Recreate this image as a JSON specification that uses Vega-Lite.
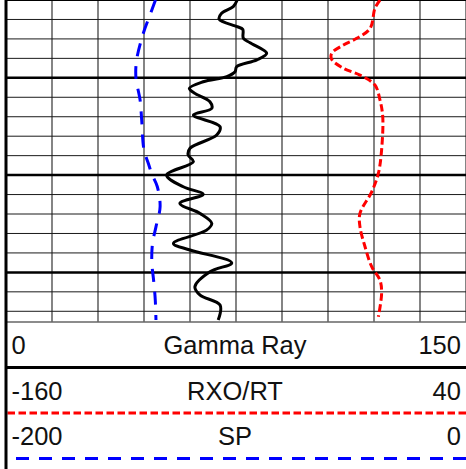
{
  "$schema": "https://vega.github.io/schema/vega-lite/v6.json",
  "width": 460,
  "height": 469,
  "autosize": "none",
  "padding": {"left": 6, "top": 0, "right": 0, "bottom": 0},
  "background": "white",
  "config": {"view": {"stroke": null}, "font": "Liberation Sans"},
  "resolve": {"scale": {"x": "independent", "y": "independent"}},
  "datasets": {
    "vgrid": [
      {"div": 1, "depth": 1010}, {"div": 1, "depth": 1175.5}, {"div": 2, "depth": 1010}, {"div": 2, "depth": 1175.5},
      {"div": 3, "depth": 1010}, {"div": 3, "depth": 1175.5}, {"div": 4, "depth": 1010}, {"div": 4, "depth": 1175.5},
      {"div": 5, "depth": 1010}, {"div": 5, "depth": 1175.5}, {"div": 6, "depth": 1010}, {"div": 6, "depth": 1175.5},
      {"div": 7, "depth": 1010}, {"div": 7, "depth": 1175.5}, {"div": 8, "depth": 1010}, {"div": 8, "depth": 1175.5},
      {"div": 9, "depth": 1010}, {"div": 9, "depth": 1175.5}, {"div": 10, "depth": 1010}, {"div": 10, "depth": 1175.5}
    ],
    "border": [{"depth": 1010}, {"depth": 1251.06}],
    "edges": [{"depth": 1010, "kind": "top"}, {"depth": 1175.5, "kind": "bottom"}],
    "hgrid": [
      {"depth": 1020, "major": false}, {"depth": 1030, "major": false}, {"depth": 1040, "major": false},
      {"depth": 1050, "major": true}, {"depth": 1060, "major": false}, {"depth": 1070, "major": false},
      {"depth": 1080, "major": false}, {"depth": 1090, "major": false}, {"depth": 1100, "major": true},
      {"depth": 1110, "major": false}, {"depth": 1120, "major": false}, {"depth": 1130, "major": false},
      {"depth": 1140, "major": false}, {"depth": 1150, "major": true}, {"depth": 1160, "major": false},
      {"depth": 1170, "major": false}
    ],
    "sp": [
      {"depth": 1010.0, "value": -135.0}, {"depth": 1016.8, "value": -137.1}, {"depth": 1027.1, "value": -140.3},
      {"depth": 1040.8, "value": -143.2}, {"depth": 1050.1, "value": -143.5}, {"depth": 1061.4, "value": -141.7},
      {"depth": 1071.7, "value": -141.0}, {"depth": 1087.1, "value": -140.0}, {"depth": 1094.0, "value": -138.1},
      {"depth": 1099.4, "value": -136.6}, {"depth": 1106.0, "value": -134.2}, {"depth": 1116.3, "value": -133.0},
      {"depth": 1126.6, "value": -134.8}, {"depth": 1135.1, "value": -136.3}, {"depth": 1145.0, "value": -136.6},
      {"depth": 1154.3, "value": -135.8}, {"depth": 1164.2, "value": -135.1}, {"depth": 1174.5, "value": -134.8}
    ],
    "rxo": [
      {"depth": 1010.0, "value": 2.6}, {"depth": 1014.3, "value": 0.4}, {"depth": 1024.6, "value": -1.7},
      {"depth": 1029.7, "value": -7.5}, {"depth": 1033.1, "value": -13.3}, {"depth": 1037.4, "value": -18.4},
      {"depth": 1040.5, "value": -18.4}, {"depth": 1045.1, "value": -13.3}, {"depth": 1048.6, "value": -6.1},
      {"depth": 1053.7, "value": 0.4}, {"depth": 1061.4, "value": 2.6}, {"depth": 1070.0, "value": 3.8},
      {"depth": 1087.1, "value": 3.3}, {"depth": 1099.1, "value": 1.9}, {"depth": 1108.6, "value": -1.0},
      {"depth": 1119.7, "value": -6.1}, {"depth": 1126.6, "value": -6.1}, {"depth": 1136.8, "value": -3.9},
      {"depth": 1147.1, "value": -1.0}, {"depth": 1154.0, "value": 2.6}, {"depth": 1160.8, "value": 3.3},
      {"depth": 1172.8, "value": 1.9}
    ],
    "gr": [
      {"depth": 1010.0, "value": 75.4}, {"depth": 1013.4, "value": 74.1}, {"depth": 1016.8, "value": 70.3},
      {"depth": 1019.8, "value": 69.5}, {"depth": 1023.7, "value": 75.4}, {"depth": 1025.1, "value": 77.2},
      {"depth": 1029.7, "value": 77.4}, {"depth": 1032.0, "value": 79.6}, {"depth": 1037.4, "value": 85.0},
      {"depth": 1040.8, "value": 81.8}, {"depth": 1044.3, "value": 75.2}, {"depth": 1046.9, "value": 74.7},
      {"depth": 1049.4, "value": 72.0}, {"depth": 1052.0, "value": 64.3}, {"depth": 1055.4, "value": 59.8},
      {"depth": 1058.0, "value": 61.6}, {"depth": 1062.3, "value": 66.5}, {"depth": 1065.7, "value": 67.1},
      {"depth": 1069.1, "value": 61.1}, {"depth": 1075.1, "value": 69.8}, {"depth": 1079.4, "value": 68.7},
      {"depth": 1086.2, "value": 60.0}, {"depth": 1089.7, "value": 59.4}, {"depth": 1093.1, "value": 61.1},
      {"depth": 1100.0, "value": 52.4}, {"depth": 1106.0, "value": 57.8}, {"depth": 1109.9, "value": 64.3},
      {"depth": 1114.5, "value": 56.7}, {"depth": 1119.7, "value": 63.3}, {"depth": 1124.8, "value": 67.1},
      {"depth": 1128.3, "value": 65.4}, {"depth": 1135.1, "value": 54.6}, {"depth": 1138.5, "value": 60.0},
      {"depth": 1145.1, "value": 73.6}, {"depth": 1149.7, "value": 66.5}, {"depth": 1157.4, "value": 61.6},
      {"depth": 1161.7, "value": 63.3}, {"depth": 1166.8, "value": 69.8}, {"depth": 1174.5, "value": 69.2}
    ],
    "header": [
      {"name": "Gamma Ray", "min": "0", "max": "150", "row": 1},
      {"name": "RXO/RT", "min": "-160", "max": "40", "row": 2},
      {"name": "SP", "min": "-200", "max": "0", "row": 3}
    ]
  },
  "layer": [
    {
      "data": {"name": "vgrid"},
      "mark": {"type": "line", "color": "#333", "strokeWidth": 1.2},
      "encoding": {
        "x": {"field": "div", "type": "quantitative", "scale": {"domain": [0, 10], "nice": false, "zero": false}, "axis": null},
        "y": {"field": "depth", "type": "quantitative", "scale": {"domain": [1010, 1251.06], "reverse": true, "nice": false, "zero": false}, "axis": null},
        "detail": {"field": "div", "type": "nominal"}
      }
    },
    {
      "data": {"name": "hgrid"},
      "transform": [{"filter": "!datum.major"}],
      "mark": {"type": "rule", "color": "#1a1a1a", "strokeWidth": 1},
      "encoding": {
        "y": {"field": "depth", "type": "quantitative", "scale": {"domain": [1010, 1251.06], "reverse": true, "nice": false, "zero": false}, "axis": null}
      }
    },
    {
      "data": {"name": "hgrid"},
      "transform": [{"filter": "datum.major"}],
      "mark": {"type": "rule", "color": "#000", "strokeWidth": 2.5},
      "encoding": {
        "y": {"field": "depth", "type": "quantitative", "scale": {"domain": [1010, 1251.06], "reverse": true, "nice": false, "zero": false}, "axis": null}
      }
    },
    {
      "data": {"name": "edges"},
      "transform": [{"filter": "datum.kind == 'top'"}],
      "mark": {"type": "rule", "strokeWidth": 2, "color": "#000"},
      "encoding": {
        "y": {"field": "depth", "type": "quantitative", "scale": {"domain": [1010, 1251.06], "reverse": true, "nice": false, "zero": false}, "axis": null}
      }
    },
    {
      "data": {"name": "edges"},
      "transform": [{"filter": "datum.kind == 'bottom'"}],
      "mark": {"type": "rule", "strokeWidth": 1.5, "color": "#666"},
      "encoding": {
        "y": {"field": "depth", "type": "quantitative", "scale": {"domain": [1010, 1251.06], "reverse": true, "nice": false, "zero": false}, "axis": null}
      }
    },
    {
      "data": {"name": "sp"},
      "mark": {"type": "line", "color": "#0000ff", "strokeWidth": 3, "strokeDash": [13, 10], "interpolate": "catmull-rom"},
      "encoding": {
        "x": {"field": "value", "type": "quantitative", "scale": {"domain": [-200, 0], "nice": false, "zero": false}, "axis": null},
        "y": {"field": "depth", "type": "quantitative", "scale": {"domain": [1010, 1251.06], "reverse": true, "nice": false, "zero": false}, "axis": null},
        "order": {"field": "depth"}
      }
    },
    {
      "data": {"name": "rxo"},
      "mark": {"type": "line", "color": "#ff0000", "strokeWidth": 3, "strokeDash": [7.5, 3.5], "interpolate": "catmull-rom"},
      "encoding": {
        "x": {"field": "value", "type": "quantitative", "scale": {"domain": [-160, 40], "nice": false, "zero": false}, "axis": null},
        "y": {"field": "depth", "type": "quantitative", "scale": {"domain": [1010, 1251.06], "reverse": true, "nice": false, "zero": false}, "axis": null},
        "order": {"field": "depth"}
      }
    },
    {
      "data": {"name": "gr"},
      "mark": {"type": "line", "color": "#000", "strokeWidth": 3, "interpolate": "catmull-rom"},
      "encoding": {
        "x": {"field": "value", "type": "quantitative", "scale": {"domain": [0, 150], "nice": false, "zero": false}, "axis": null},
        "y": {"field": "depth", "type": "quantitative", "scale": {"domain": [1010, 1251.06], "reverse": true, "nice": false, "zero": false}, "axis": null},
        "order": {"field": "depth"}
      }
    },
    {
      "data": {"name": "header"},
      "mark": {"type": "rule", "strokeWidth": 3},
      "encoding": {
        "y": {"field": "row", "type": "quantitative", "scale": {"domain": [-7.0769, 3.2308], "reverse": true, "nice": false, "zero": false}, "axis": null},
        "color": {"field": "name", "type": "nominal", "scale": {"domain": ["Gamma Ray", "RXO/RT", "SP"], "range": ["#000000", "#ff0000", "#0000ff"]}, "legend": null},
        "strokeDash": {"field": "name", "type": "nominal", "scale": {"domain": ["Gamma Ray", "RXO/RT", "SP"], "range": [[1, 0], [7.5, 3.5], [13, 10]]}, "legend": null}
      }
    },
    {
      "data": {"name": "border"},
      "mark": {"type": "line", "color": "#000", "strokeWidth": 3},
      "encoding": {
        "x": {"datum": 0, "type": "quantitative", "scale": {"domain": [0, 10], "nice": false, "zero": false}, "axis": null},
        "y": {"field": "depth", "type": "quantitative", "scale": {"domain": [1010, 1251.06], "reverse": true, "nice": false, "zero": false}, "axis": null}
      }
    },
    {
      "data": {"name": "header"},
      "mark": {"type": "text", "align": "left", "baseline": "alphabetic", "dy": -13.3, "fontSize": 25.5, "color": "#111"},
      "encoding": {
        "x": {"datum": 0.0119, "type": "quantitative", "scale": {"domain": [0, 1], "nice": false, "zero": false}, "axis": null},
        "y": {"field": "row", "type": "quantitative", "scale": {"domain": [-7.0769, 3.2308], "reverse": true, "nice": false, "zero": false}, "axis": null},
        "text": {"field": "min"}
      }
    },
    {
      "data": {"name": "header"},
      "mark": {"type": "text", "align": "center", "baseline": "alphabetic", "dy": -13.3, "fontSize": 25.5, "color": "#111"},
      "encoding": {
        "x": {"datum": 0.4978, "type": "quantitative", "scale": {"domain": [0, 1], "nice": false, "zero": false}, "axis": null},
        "y": {"field": "row", "type": "quantitative", "scale": {"domain": [-7.0769, 3.2308], "reverse": true, "nice": false, "zero": false}, "axis": null},
        "text": {"field": "name"}
      }
    },
    {
      "data": {"name": "header"},
      "mark": {"type": "text", "align": "right", "baseline": "alphabetic", "dy": -13.3, "fontSize": 25.5, "color": "#111"},
      "encoding": {
        "x": {"datum": 0.989, "type": "quantitative", "scale": {"domain": [0, 1], "nice": false, "zero": false}, "axis": null},
        "y": {"field": "row", "type": "quantitative", "scale": {"domain": [-7.0769, 3.2308], "reverse": true, "nice": false, "zero": false}, "axis": null},
        "text": {"field": "max"}
      }
    }
  ]
}
